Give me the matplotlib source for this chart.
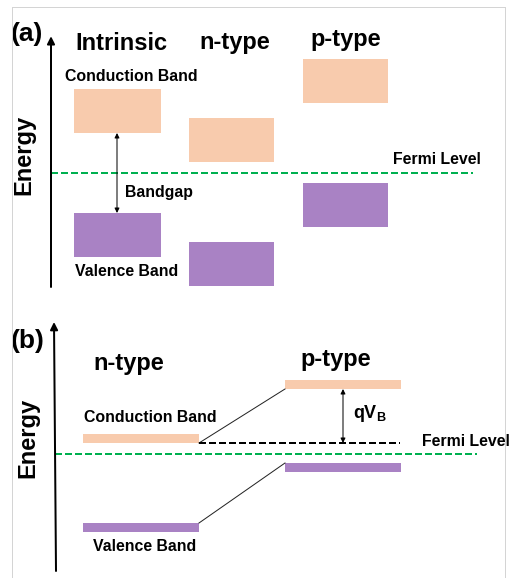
import matplotlib
matplotlib.use("Agg")
import matplotlib.pyplot as plt
from matplotlib.patches import Rectangle
from matplotlib.lines import Line2D

plt.rcParams["font.family"] = ["Liberation Sans", "DejaVu Sans"]
plt.rcParams["font.weight"] = "bold"
plt.rcParams["mathtext.fontset"] = "custom"
plt.rcParams["mathtext.bf"] = "Liberation Sans:bold"
plt.rcParams["mathtext.rm"] = "Liberation Sans:bold"

# ---- panel (a): band edges relative to the Fermi level (arb. units) ----
types_a = ["Intrinsic", "n-type", "p-type"]
cb_min_a = [1.0, 0.275, 1.75]        # conduction band minimum
vb_max_a = [-1.0, -1.725, -0.25]     # valence band maximum
band_depth_a = 1.1                   # drawn depth of each band block
fermi_a = 0.0

# ---- panel (b): n/p junction band edges (arb. units) ----
types_b = ["n-type", "p-type"]
cb_min_b = [0.275, 1.625]
vb_max_b = [-1.725, -0.225]
band_depth_b = 0.22
fermi_b = 0.0
fermi_n_b = 0.275                    # n-side level used as the qV_B reference

CB_COLOR = "#F8CBAD"
VB_COLOR = "#A982C4"
FERMI_COLOR = "#00B050"

W, H = 510, 578
fig = plt.figure(figsize=(W / 100, H / 100), dpi=100)

PT = 0.72  # one pixel in points
dash = (0, (3.5, 1.5))

def arrow(ax, x0, y0, x1, y1, style, lw, ms):
    ax.annotate("", xy=(x1, y1), xytext=(x0, y0),
                arrowprops=dict(arrowstyle=style, lw=lw, color="black",
                                mutation_scale=ms, shrinkA=0, shrinkB=0),
                annotation_clip=False)

# ---------------- panel (a) ----------------
axa = fig.add_axes([0, (H - 300) / H, 1, 300 / H])
axa.set_xlim(0, W)
axa.set_ylim(-3.175, 4.325)
axa.axis("off")

box_left_a = [74, 189, 303]
box_w_a = [87, 85, 85]
for x, w, ec, ev in zip(box_left_a, box_w_a, cb_min_a, vb_max_a):
    axa.add_patch(Rectangle((x, ec), w, band_depth_a, facecolor=CB_COLOR,
                            edgecolor="none"))
    axa.add_patch(Rectangle((x, ev - band_depth_a), w, band_depth_a,
                            facecolor=VB_COLOR, edgecolor="none"))

axa.plot([51, 473], [fermi_a, fermi_a], color=FERMI_COLOR, lw=2 * PT,
         linestyle=dash)
arrow(axa, 51, -2.85, 51, 3.42, "-|>", 2 * PT, 11)
arrow(axa, 117, vb_max_a[0], 117, cb_min_a[0], "<|-|>", 1 * PT, 7)

head_x_a = [121, 234.5, 345.5]
head_y_a = [3.25, 3.25, 3.33]
for name, x, y in zip(types_a, head_x_a, head_y_a):
    axa.text(x, y, name, fontsize=17, ha="center", va="center")

axa.text(27, 3.48, "(a)", fontsize=19, ha="center", va="center")
axa.text(24, 0.45, "Energy", fontsize=17, rotation=90, ha="center",
         va="center")
axa.text(131, 2.42, "Conduction Band", fontsize=11.4, ha="center",
         va="center")
axa.text(125, -0.5, "Bandgap", fontsize=11.4, ha="left", va="center")
axa.text(127, -2.47, "Valence Band", fontsize=11.4, ha="center",
         va="center")
axa.text(393, 0.35, "Fermi Level", fontsize=11.4, ha="left", va="center")

# ---------------- panel (b) ----------------
axb = fig.add_axes([0, 0, 1, 278 / H])
axb.set_xlim(0, W)
axb.set_ylim(-3.1, 3.85)
axb.axis("off")

bar_x_b = [83, 285]
bar_w_b = [116, 116]
for x, w, ec, ev in zip(bar_x_b, bar_w_b, cb_min_b, vb_max_b):
    axb.add_patch(Rectangle((x, ec), w, band_depth_b, facecolor=CB_COLOR,
                            edgecolor="none"))
    axb.add_patch(Rectangle((x, ev - band_depth_b), w, band_depth_b,
                            facecolor=VB_COLOR, edgecolor="none"))

# band bending connectors
n_end = bar_x_b[0] + bar_w_b[0]
p_start = bar_x_b[1]
axb.plot([n_end, p_start], [cb_min_b[0], cb_min_b[1]], color="#222222",
         lw=1 * PT)
axb.plot([n_end, p_start], [vb_max_b[0], vb_max_b[1]], color="#222222",
         lw=1 * PT)

axb.plot([55, 477], [fermi_b, fermi_b], color=FERMI_COLOR, lw=2 * PT,
         linestyle=dash)
axb.plot([n_end, 400], [fermi_n_b, fermi_n_b], color="black", lw=2 * PT,
         linestyle=dash)

arrow(axb, 56, -2.925, 54, 3.3, "-|>", 2 * PT, 11)
arrow(axb, 343, fermi_n_b, 343, cb_min_b[1], "<|-|>", 1 * PT, 7)

head_x_b = [129, 336]
head_y_b = [2.27, 2.37]
for name, x, y in zip(types_b, head_x_b, head_y_b):
    axb.text(x, y, name, fontsize=17, ha="center", va="center")

axb.text(28, 2.82, "(b)", fontsize=19, ha="center", va="center")
axb.text(28, 0.4, "Energy", fontsize=17, rotation=90, ha="center",
         va="center")
axb.text(150, 0.9, "Conduction Band", fontsize=11.4, ha="center",
         va="center")
axb.text(144.5, -2.32, "Valence Band", fontsize=11.4, ha="center",
         va="center")
axb.text(422, 0.3, "Fermi Level", fontsize=11.4, ha="left", va="center")
axb.text(353, 1.02, r"$\mathbf{qV}_\mathbf{B}$", fontsize=13, ha="left",
         va="center")

# light frame around the figure content
frame_kw = dict(color="#D4D4D4", lw=1 * PT, transform=fig.transFigure)
fx0, fx1, fy = 12 / W, 505 / W, 1 - 7 / H
fig.add_artist(Line2D([fx0, fx1], [fy, fy], **frame_kw))
fig.add_artist(Line2D([fx0, fx0], [0, fy], **frame_kw))
fig.add_artist(Line2D([fx1, fx1], [0, fy], **frame_kw))

fig.savefig("out.png", dpi=100, facecolor="white")
